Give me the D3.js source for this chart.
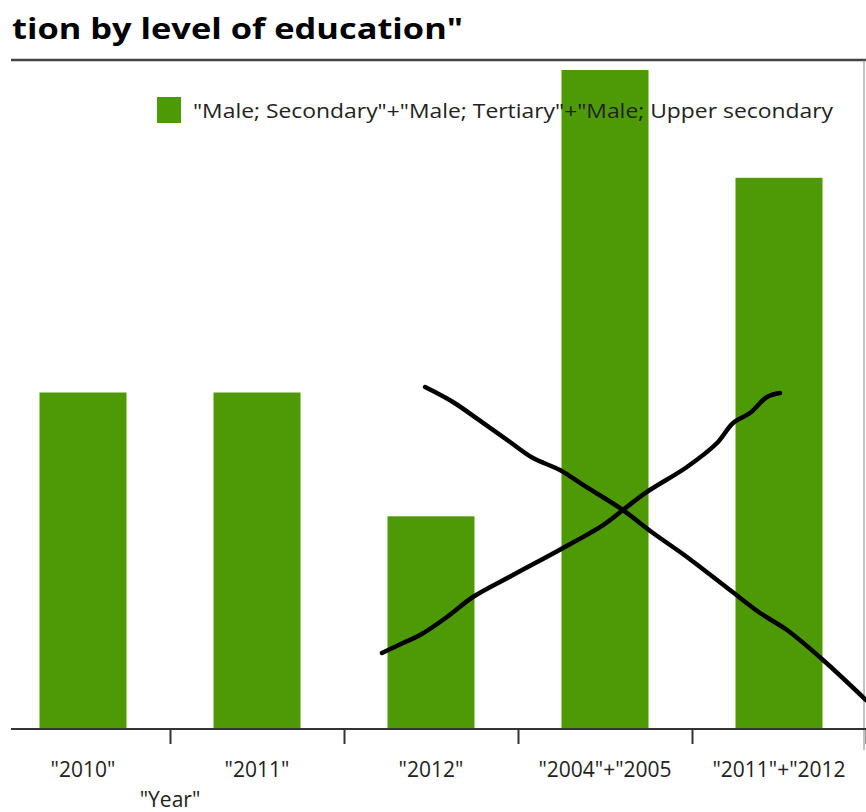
<!DOCTYPE html>
<html>
<head>
<meta charset="utf-8">
<script src="https://cdn.jsdelivr.net/npm/d3@7"></script>
<style>
  body { margin: 0; background: #fff; }
  #chart { width: 866px; height: 812px; }
  text { font-family: "Open Sans", "DejaVu Sans", sans-serif; fill: #222; }
</style>
</head>
<body>
<div id="chart"></div>
<script>
/*   DATA   */
const categories = ['"2010"', '"2011"', '"2012"', '"2004"+"2005', '"2011"+"2012'];
const values = [33.7, 33.7, 21.3, 66.0, 55.2];
const seriesName = '"Male; Secondary"+"Male; Tertiary"+"Male; Upper secondary';
const titleText = 'tion by level of education"';
const xTitle = '"Year"';

// hand drawn cross over the chart, as [category position, value]
const strokeDown = [[1.966, 34.25], [2.126, 32.75], [2.299, 30.65], [2.454, 28.74], [2.586, 27.14],
    [2.741, 25.94], [2.874, 24.44], [3.103, 21.93], [3.276, 19.63], [3.471, 17.23], [3.718, 13.92],
    [3.891, 11.62], [4.046, 9.91], [4.253, 6.91], [4.5, 2.9]];
const strokeUp = [[1.718, 7.61], [1.839, 8.61], [1.937, 9.41], [2.092, 11.22], [2.241, 13.22],
    [2.471, 15.42], [2.759, 18.13], [2.989, 20.43], [3.103, 21.93], [3.241, 23.74], [3.471, 26.24],
    [3.644, 28.64], [3.736, 30.65], [3.833, 31.65], [3.931, 33.25], [4.006, 33.65]];

/*   SVG   */
const width = 866, height = 812;
const margin = {top: 60, bottom: 729, left: -4, right: 866};

const svg = d3.select("#chart")
    .append("svg")
    .attr("width", width)
    .attr("height", height);

/*   SCALES   */
const xScale = d3.scaleBand()
    .domain(categories)
    .range([margin.left, margin.right])
    .paddingInner(0.5)
    .paddingOuter(0.25);

const yScale = d3.scaleLinear()
    .domain([0, 67])
    .range([margin.bottom, margin.top]);

// position along the categories (0 = centre of the first band)
const xPos = d3.scaleLinear()
    .domain([0, categories.length - 1])
    .range([xScale(categories[0]) + xScale.bandwidth() / 2,
            xScale(categories[categories.length - 1]) + xScale.bandwidth() / 2]);

// band boundaries for the ticks
const xEdges = d3.scaleLinear()
    .domain([0, categories.length])
    .range([margin.left, margin.right]);

/*   TITLE + FRAME   */
svg.append("text")
    .attr("x", 12)
    .attr("y", 39)
    .attr("font-size", 29)
    .attr("font-weight", "bold")
    .attr("textLength", 451)
    .attr("lengthAdjust", "spacingAndGlyphs")
    .style("fill", "#000")
    .text(titleText);

svg.append("line")
    .attr("x1", 11).attr("x2", width)
    .attr("y1", 60).attr("y2", 60)
    .attr("stroke", "#444")
    .attr("stroke-width", 2.5);

svg.append("line")
    .attr("x1", 864).attr("x2", 864)
    .attr("y1", 60).attr("y2", 750)
    .attr("stroke", "#888")
    .attr("stroke-width", 1);

/*   BARS   */
svg.selectAll("rect.bar")
    .data(values)
    .enter()
    .append("rect")
    .attr("class", "bar")
    .attr("x", (d, i) => xScale(categories[i]))
    .attr("width", xScale.bandwidth())
    .attr("y", d => yScale(d))
    .attr("height", d => yScale(0) - yScale(d))
    .attr("fill", "#4e9a06");

/*   LEGEND   */
svg.append("rect")
    .attr("x", 157).attr("y", 97)
    .attr("width", 24).attr("height", 26)
    .attr("fill", "#4e9a06");

svg.append("text")
    .attr("x", 193)
    .attr("y", 118)
    .attr("font-size", 20)
    .attr("textLength", 640)
    .attr("lengthAdjust", "spacingAndGlyphs")
    .text(seriesName);

/*   AXIS   */
const xAxis = svg.append("g")
    .attr("transform", `translate(0,${margin.bottom})`)
    .call(d3.axisBottom(xEdges).tickValues(d3.range(1, categories.length + 1)).tickFormat("").tickSize(15).tickSizeOuter(0));
xAxis.select(".domain").remove();
xAxis.selectAll("line").attr("stroke", "#333").attr("stroke-width", 2);

svg.append("line")
    .attr("x1", 11).attr("x2", width)
    .attr("y1", margin.bottom).attr("y2", margin.bottom)
    .attr("stroke", "#333")
    .attr("stroke-width", 2);

svg.selectAll("text.xlabel")
    .data(categories)
    .enter()
    .append("text")
    .attr("class", "xlabel")
    .attr("x", d => xScale(d) + xScale.bandwidth() / 2)
    .attr("y", 777)
    .attr("text-anchor", "middle")
    .attr("font-size", 21)
    .text(d => d);

svg.append("text")
    .attr("x", xEdges(1))
    .attr("y", 807)
    .attr("text-anchor", "middle")
    .attr("font-size", 21)
    .text(xTitle);

/*   HAND DRAWN CROSS   */
const line = d3.line()
    .x(d => xPos(d[0]))
    .y(d => yScale(d[1]))
    .curve(d3.curveCatmullRom);

[strokeDown, strokeUp].forEach(s => {
    svg.append("path")
        .attr("d", line(s))
        .attr("fill", "none")
        .attr("stroke", "#000")
        .attr("stroke-width", 4.5)
        .attr("stroke-linecap", "round")
        .attr("stroke-linejoin", "round");
});
</script>
</body>
</html>
